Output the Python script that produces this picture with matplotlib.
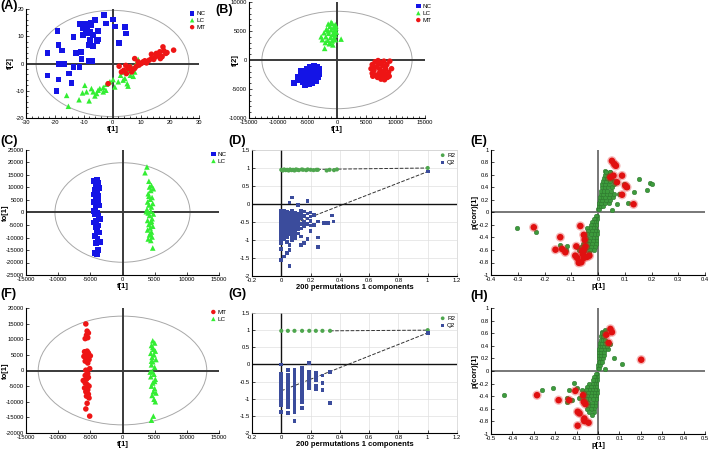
import matplotlib
matplotlib.use("Agg")
import matplotlib.pyplot as plt
from matplotlib.patches import Ellipse
from matplotlib.ticker import MultipleLocator, AutoMinorLocator, FuncFormatter

plt.rcParams["font.family"] = ["Liberation Sans", "DejaVu Sans"]
plt.rcParams["font.size"] = 4.5
plt.rcParams["axes.unicode_minus"] = False

# ---------------- data ----------------
# (A) PCA scores, t[1] / t[2]
a_nc = [(-3.0, 17.8), (0.2, 16.2), (-2.3, 14.7), (0.8, 13.5), (4.3, 13.3), (4.6, 11.0),
        (2.3, 7.6), (-6.1, 16.0), (-7.6, 15.0), (-9.6, 14.7), (-11.3, 14.5), (-8.8, 13.7),
        (-10.4, 12.9), (-7.8, 11.7), (-5.0, 12.0), (-8.4, 11.0), (-6.7, 10.4), (-10.2, 10.4),
        (-13.6, 9.8), (-5.0, 8.8), (-5.3, 8.3), (-7.8, 8.6), (-8.4, 6.7), (-6.7, 6.4),
        (-19.1, 12.0), (-18.8, 6.7), (-17.6, 4.7), (-12.7, 3.9), (-10.9, 4.3), (-22.5, 3.9),
        (-10.7, 1.6), (-8.4, 0.9), (-6.9, 1.0), (-18.8, -0.2), (-17.6, -0.2), (-16.8, -0.2),
        (-13.6, -1.2), (-11.5, -1.2), (-22.5, -4.4), (-15.0, -3.7), (-18.8, -5.9),
        (-14.2, -7.1), (-19.4, -10.1), (-7.3, 14.1), (-9.2, 12.3)]
a_lc = [(-15.9, -11.7), (-15.3, -15.7), (-11.6, -13.3), (-9.6, -8.0), (-9.0, -10.4),
        (-8.1, -13.7), (-7.3, -9.2), (-6.7, -10.4), (-5.5, -11.0), (-5.0, -9.8), (-4.4, -9.2),
        (-3.2, -8.8), (-2.1, -7.6), (-0.9, -6.7), (-2.3, -9.8), (0.8, -8.6), (0.2, -5.9),
        (2.0, -6.7), (2.8, -4.3), (3.5, -3.1), (4.3, -5.5), (5.1, -7.4), (5.4, -8.3),
        (4.8, -3.1), (6.2, -4.3), (7.2, -4.7), (7.7, -3.1), (8.3, 0.2), (8.9, 1.5),
        (6.6, -1.2), (3.7, -6.1), (-3.2, -10.4), (-6.1, -11.9), (-10.4, -10.8), (5.8, -2.2)]
a_mt = [(-1.5, -7.4), (2.3, -1.0), (3.1, -3.1), (3.9, -2.5), (4.6, -0.7), (5.4, -1.8),
        (6.0, -1.2), (6.9, -2.5), (7.7, -1.8), (8.3, -1.0), (9.2, -0.6), (7.7, 1.8),
        (10.0, 0.0), (10.6, 0.6), (11.8, 0.2), (12.7, 1.2), (13.5, 3.4), (13.5, 1.8),
        (14.3, 1.5), (15.0, 2.5), (15.8, 3.1), (16.4, 4.3), (17.0, 2.7), (17.5, 6.1),
        (17.8, 4.7), (18.5, 3.7), (18.9, 4.0), (21.2, 4.9), (15.2, 3.7), (16.6, 1.8),
        (6.6, -3.1), (4.8, -3.7), (8.9, 0.6), (11.2, 1.0), (17.2, 2.5)]
a_ellipse = (26.5, 19.5)

# (B) PLS-DA scores
b_nc = [(-7300, -4000), (-6500, -3500), (-6000, -3000), (-6200, -2500), (-5800, -3800),
        (-5500, -2200), (-5200, -1500), (-5000, -3200), (-4800, -4200), (-4500, -2600),
        (-4200, -1800), (-4000, -3500), (-3800, -2800), (-3500, -2000), (-3300, -1200),
        (-3000, -1500), (-3200, -3000), (-5500, -4300), (-6100, -1900), (-4600, -1200),
        (-4300, -4000), (-5700, -2800), (-5100, -2500), (-4700, -3600), (-3600, -3700),
        (-6700, -2900), (-3100, -2400), (-5300, -3300), (-4900, -1900), (-3900, -1000)]
b_lc = [(-1500, 6200), (-800, 6300), (-300, 6100), (-1200, 5800), (-600, 5600), (-200, 5500),
        (-1800, 5300), (-1000, 5200), (-400, 5000), (-100, 4800), (-2200, 4700), (-1400, 4600),
        (-700, 4400), (-300, 4300), (-1900, 4000), (-1100, 3900), (-500, 3800), (-2500, 3500),
        (-1600, 3400), (-800, 3300), (-2000, 3000), (-1300, 2800), (-700, 2600), (-2100, 2000),
        (700, 3600), (-2700, 4000), (-1000, 6500), (-200, 5900), (-1500, 5000), (-600, 4700),
        (-300, 3500), (-1200, 3000)]
b_mt = [(6000, -800), (6500, -300), (7000, -100), (7500, -500), (8000, -200), (9000, -200),
        (5800, -1500), (6300, -1800), (6800, -1200), (7300, -1600), (7800, -1000), (8300, -1500),
        (9300, -1500), (6000, -2300), (6600, -2600), (7200, -2300), (7700, -2800), (8200, -2500),
        (8800, -2100), (6900, -3000), (7500, -3300), (8100, -3400), (8600, -3000), (7100, -700),
        (7900, -2000), (6400, -1200), (8500, -800), (7400, -2000), (6100, -2800), (8900, -2800)]
b_ellipse = (12800, 8400)

# (C) OPLS-DA NC vs LC
c_nc = [(-4000, 13000), (-4400, 12500), (-3700, 11800), (-4100, 10500), (-3600, 9800),
        (-4300, 9000), (-3900, 7800), (-4500, 7200), (-3700, 6500), (-4200, 5800), (-3800, 5000),
        (-4400, 4200), (-4000, 3500), (-3600, 2800), (-4200, 1800), (-4500, 500), (-3900, -200),
        (-4300, -800), (-3700, -1500), (-3500, -2500), (-4100, -3200), (-4400, -4000),
        (-3800, -5200), (-4200, -6000), (-4000, -7000), (-3600, -8000), (-4300, -9500),
        (-3900, -10500), (-3500, -11800), (-4100, -12300), (-3800, -15000), (-4300, -16200),
        (-4000, -16800), (-3700, -12000), (-4100, 8000), (-3700, 3000)]
c_lc = [(3800, 18200), (3500, 15900), (4100, 12500), (4500, 10800), (4200, 10200), (4800, 9500),
        (4400, 8800), (4000, 7500), (4600, 6000), (4300, 5300), (3900, 4200), (4700, 3600),
        (4100, 3000), (4500, 2200), (3800, 1200), (4400, 500), (4000, -200), (4800, -600),
        (4200, -1200), (4600, -2500), (3900, -3200), (4400, -4000), (4100, -4800), (4700, -5500),
        (4300, -6200), (3900, -7000), (4500, -7800), (4200, -9000), (4600, -9800), (4000, -10600),
        (4400, -11200), (4700, -14200), (4100, 6500), (4500, -3500), (3700, 300), (4300, -8500)]
c_ellipse = (10500, 19900)

# (F) OPLS-DA MT vs LC
f_mt = [(-5700, 14900), (-5500, 12600), (-5300, 12000), (-5600, 11300), (-5400, 10500),
        (-5800, 10200), (-5900, 6000), (-5500, 6200), (-5700, 5300), (-5300, 5600), (-6000, 4500),
        (-5500, 4000), (-5200, 3500), (-5800, 3000), (-5400, 2400), (-5100, 600), (-5700, 100),
        (-6100, -3200), (-5600, -2800), (-5300, -2200), (-5800, -4000), (-5500, -4500),
        (-5200, -5000), (-5900, -5600), (-5400, -6200), (-5700, -6800), (-5300, -7600),
        (-5600, -8200), (-5200, -8800), (-5500, -10500), (-5700, -12300), (-5100, -14600),
        (-5400, -1000), (-5000, 4700), (-5800, -1600)]
f_lc = [(4700, 9500), (5000, 8800), (4500, 8000), (4800, 6800), (5100, 6200), (4400, 5500),
        (4900, 5000), (4600, 4200), (5200, 3500), (4700, 2800), (4500, 1800), (5000, 1000),
        (4600, -300), (4900, -1200), (4400, -2000), (5100, -2800), (4700, -4000), (4500, -5000),
        (5000, -5800), (4800, -6800), (5200, -7200), (4600, -8000), (4900, -9200), (5100, -10000),
        (4500, -15900), (4800, -14600), (4700, 7400), (4500, 3000), (5000, -3500), (4300, -500)]
f_ellipse = (13100, 17400)

# (D) permutation test, NC vs LC
d_r2 = [(0, 0.95), (0.01, 0.93), (0.02, 0.96), (0.03, 0.94), (0.04, 0.95), (0.05, 0.93),
        (0.06, 0.96), (0.07, 0.94), (0.08, 0.95), (0.09, 0.93), (0.10, 0.96), (0.11, 0.95),
        (0.12, 0.94), (0.14, 0.96), (0.15, 0.95), (0.17, 0.94), (0.18, 0.96), (0.20, 0.95),
        (0.22, 0.94), (0.24, 0.95), (0.25, 0.95), (0.31, 0.93), (0.33, 0.95), (0.36, 0.94),
        (0.38, 0.96)]
d_q2 = [(0, -0.2), (0, -0.3), (0, -0.4), (0, -0.5), (0, -0.6), (0, -0.7), (0, -0.8), (0, -0.9),
        (0, -1.0), (0, -1.08), (0, -1.25), (0, -1.56),
        (0.02, -0.18), (0.02, -0.28), (0.02, -0.38), (0.02, -0.48), (0.02, -0.58), (0.02, -0.68),
        (0.02, -0.78), (0.02, -0.88), (0.02, -0.98), (0.02, -1.46),
        (0.04, -0.22), (0.04, -0.32), (0.04, -0.42), (0.04, -0.52), (0.04, -0.62), (0.04, -0.72),
        (0.04, -0.82), (0.04, -0.92), (0.04, -1.05), (0.04, -1.37),
        (0.055, 0.04), (0.055, -0.25), (0.055, -0.35), (0.055, -0.45), (0.055, -0.55),
        (0.055, -0.65), (0.055, -0.75), (0.055, -0.85), (0.055, -1.14), (0.055, -1.28),
        (0.055, -1.72),
        (0.075, 0.18), (0.075, -0.2), (0.075, -0.3), (0.075, -0.4), (0.075, -0.5), (0.075, -0.6),
        (0.075, -0.7), (0.075, -0.8), (0.075, -0.9), (0.075, -1.0),
        (0.095, -0.25), (0.095, -0.35), (0.095, -0.45), (0.095, -0.55), (0.095, -0.65),
        (0.095, -0.75), (0.095, -0.85), (0.095, -0.95),
        (0.115, -0.03), (0.115, -0.28), (0.115, -0.38), (0.115, -0.48), (0.115, -0.58),
        (0.115, -0.7), (0.115, -0.82),
        (0.135, -0.2), (0.135, -0.3), (0.135, -0.4), (0.135, -0.55), (0.135, -0.68),
        (0.135, -0.9), (0.135, -1.14),
        (0.155, -0.21), (0.155, -0.33), (0.155, -0.5), (0.155, -0.62), (0.155, -1.09),
        (0.18, 0.09), (0.18, -0.26), (0.18, -0.4), (0.18, -0.55), (0.18, -0.98),
        (0.20, -0.24), (0.20, -0.35), (0.20, -0.48), (0.20, -0.6), (0.20, -0.75),
        (0.225, -0.3), (0.225, -0.58), (0.25, -0.49), (0.25, -0.93), (0.25, -1.19),
        (0.29, -0.52), (0.32, -0.52), (0.345, -0.32), (0.356, -0.49)]
d_r2_orig = (1.0, 1.0)
d_q2_orig = (1.0, 0.9)
d_r2_line = [(0, 0.95), (1.0, 1.0)]
d_q2_line = [(0, -0.68), (1.0, 0.9)]

# (G) permutation test, MT vs LC
g_r2 = [(0, 0.98), (0.045, 0.98), (0.09, 0.98), (0.142, 0.98), (0.191, 0.98), (0.236, 0.98),
        (0.281, 0.98), (0.333, 0.98)]
g_q2 = [(0, 0.0), (0, -0.28), (0, -0.35), (0, -0.45), (0, -0.55), (0, -0.62), (0, -0.72),
        (0, -0.8), (0, -0.9), (0, -1.0), (0, -1.1), (0, -1.2), (0, -1.38),
        (0.045, -0.17), (0.045, -0.3), (0.045, -0.4), (0.045, -0.5), (0.045, -0.6),
        (0.045, -0.68), (0.045, -0.75), (0.045, -0.85), (0.045, -0.95), (0.045, -1.05),
        (0.045, -1.15), (0.045, -1.25), (0.045, -1.42),
        (0.09, -0.15), (0.09, -0.25), (0.09, -0.35), (0.09, -0.45), (0.09, -0.55), (0.09, -0.65),
        (0.09, -0.75), (0.09, -0.85), (0.09, -0.92), (0.09, -1.0), (0.09, -1.1), (0.09, -1.2),
        (0.09, -1.3), (0.09, -1.38), (0.09, -1.65),
        (0.142, -0.1), (0.142, -0.2), (0.142, -0.3), (0.142, -0.4), (0.142, -0.5),
        (0.142, -0.6), (0.142, -0.7), (0.142, -0.8), (0.142, -0.9), (0.142, -1.0),
        (0.142, -1.1), (0.142, -1.28),
        (0.191, 0.04), (0.191, -0.22), (0.191, -0.32), (0.191, -0.42), (0.191, -0.52),
        (0.191, -0.6), (0.191, -0.7),
        (0.236, -0.25), (0.236, -0.35), (0.236, -0.45), (0.236, -0.62), (0.236, -0.72),
        (0.281, -0.32), (0.281, -0.55), (0.281, -0.75),
        (0.333, -0.22), (0.333, -1.13)]
g_r2_orig = (1.0, 1.0)
g_q2_orig = (1.0, 0.92)
g_r2_line = [(0.333, 0.98), (1.0, 1.0)]
g_q2_line = [(0, -0.77), (1.0, 0.92)]

# (E) S-plot NC vs LC: all variables (green) and selected (red)
e_all = [(-0.302, -0.242), (-0.23, -0.305), (-0.143, -0.52), (-0.116, -0.54), (-0.118, -0.595),
         (0.152, 0.537), (0.195, 0.468), (0.2, 0.458), (0.185, 0.353), (0.133, 0.326),
         (0.114, 0.153), (0.108, 0.405), (0.096, 0.458), (0.077, 0.3), (0.071, 0.142),
         (0.052, 0.037), (0.046, 0.642), (0.027, 0.658),
         (0.0, 0.05), (0.005, 0.05), (0.003, 0.1), (0.01, 0.1), (0.02, 0.1),
         (0.005, 0.15), (0.012, 0.15), (0.025, 0.15), (0.04, 0.15),
         (0.006, 0.2), (0.015, 0.2), (0.03, 0.2), (0.045, 0.2),
         (0.008, 0.25), (0.018, 0.25), (0.028, 0.25), (0.04, 0.25), (0.055, 0.25),
         (0.01, 0.3), (0.02, 0.3), (0.032, 0.3), (0.045, 0.3), (0.06, 0.3),
         (0.012, 0.35), (0.022, 0.35), (0.035, 0.35), (0.05, 0.35),
         (0.014, 0.4), (0.025, 0.4), (0.038, 0.4), (0.052, 0.4),
         (0.016, 0.45), (0.028, 0.45), (0.042, 0.45), (0.058, 0.45),
         (0.018, 0.5), (0.03, 0.5), (0.045, 0.5), (0.06, 0.5),
         (0.022, 0.55), (0.035, 0.55), (0.05, 0.55), (0.025, 0.6), (0.04, 0.6), (0.055, 0.6),
         (0.03, 0.64), (0.045, 0.64),
         (-0.002, -0.05), (-0.006, -0.05), (-0.004, -0.1), (-0.01, -0.1), (-0.016, -0.1),
         (-0.006, -0.15), (-0.014, -0.15), (-0.022, -0.15),
         (-0.008, -0.2), (-0.018, -0.2), (-0.028, -0.2),
         (-0.01, -0.25), (-0.02, -0.25), (-0.03, -0.25), (-0.04, -0.25),
         (-0.004, -0.3), (-0.012, -0.3), (-0.024, -0.3), (-0.036, -0.3),
         (-0.005, -0.35), (-0.015, -0.35), (-0.027, -0.35), (-0.04, -0.35),
         (-0.006, -0.4), (-0.018, -0.4), (-0.03, -0.4), (-0.045, -0.4),
         (-0.007, -0.45), (-0.02, -0.45), (-0.034, -0.45), (-0.05, -0.45),
         (-0.008, -0.5), (-0.022, -0.5), (-0.038, -0.5), (-0.055, -0.5),
         (-0.01, -0.55), (-0.025, -0.55), (-0.042, -0.55), (-0.065, -0.55), (-0.08, -0.55),
         (-0.015, -0.6), (-0.03, -0.6), (-0.048, -0.6), (-0.07, -0.6),
         (-0.035, -0.65), (-0.055, -0.65), (-0.05, -0.7)]
e_sel = [(0.052, 0.826), (0.061, 0.774), (0.067, 0.747), (0.058, 0.59), (0.09, 0.59),
         (0.046, 0.563), (0.071, 0.484), (0.102, 0.432), (0.108, 0.405), (0.09, 0.284),
         (0.133, 0.132), (-0.24, -0.237), (-0.141, -0.395), (-0.159, -0.595), (-0.134, -0.584),
         (-0.122, -0.637), (-0.066, -0.216), (-0.053, -0.358), (-0.05, -0.437), (-0.047, -0.542),
         (-0.053, -0.595), (-0.056, -0.674), (-0.081, -0.542), (-0.085, -0.69), (-0.078, -0.726),
         (-0.072, -0.805), (-0.062, -0.795), (-0.053, -0.726), (-0.041, -0.71), (-0.032, -0.69),
         (-0.06, -0.62)]

# (H) S-plot MT vs LC
h_all = [(-0.437, -0.384), (-0.261, -0.305), (-0.21, -0.263), (-0.135, -0.295), (-0.145, -0.421),
         (-0.145, -0.489), (-0.11, -0.19), (-0.1, -0.263), (-0.121, -0.463), (-0.09, -0.421),
         (0.112, 0.116), (0.073, 0.21), (0.034, 0.037), (0.058, 0.43), (0.034, 0.653),
         (0.019, 0.616),
         (0.0, 0.05), (0.004, 0.05), (0.002, 0.1), (0.008, 0.1), (0.003, 0.15), (0.01, 0.15),
         (0.02, 0.15), (0.004, 0.2), (0.012, 0.2), (0.025, 0.2), (0.005, 0.25), (0.014, 0.25),
         (0.028, 0.25), (0.006, 0.3), (0.015, 0.3), (0.03, 0.3), (0.007, 0.35), (0.016, 0.35),
         (0.032, 0.35), (0.045, 0.35), (0.008, 0.4), (0.018, 0.4), (0.03, 0.4), (0.042, 0.4),
         (0.01, 0.45), (0.02, 0.45), (0.035, 0.45), (0.012, 0.5), (0.022, 0.5), (0.035, 0.5),
         (0.014, 0.55), (0.025, 0.55), (0.02, 0.6), (0.03, 0.6),
         (-0.003, -0.05), (-0.008, -0.05), (-0.005, -0.1), (-0.012, -0.1), (-0.02, -0.1),
         (-0.006, -0.15), (-0.015, -0.15), (-0.025, -0.15),
         (-0.008, -0.2), (-0.018, -0.2), (-0.03, -0.2), (-0.04, -0.2),
         (-0.01, -0.25), (-0.022, -0.25), (-0.035, -0.25), (-0.05, -0.25),
         (-0.005, -0.3), (-0.015, -0.3), (-0.028, -0.3), (-0.042, -0.3), (-0.058, -0.3),
         (-0.075, -0.3), (-0.006, -0.35), (-0.018, -0.35), (-0.032, -0.35), (-0.048, -0.35),
         (-0.065, -0.35), (-0.008, -0.4), (-0.02, -0.4), (-0.035, -0.4), (-0.052, -0.4),
         (-0.07, -0.4), (-0.01, -0.45), (-0.024, -0.45), (-0.04, -0.45), (-0.056, -0.45),
         (-0.012, -0.5), (-0.028, -0.5), (-0.045, -0.5), (-0.06, -0.5),
         (-0.015, -0.55), (-0.03, -0.55), (-0.048, -0.55), (-0.018, -0.6), (-0.035, -0.6),
         (-0.05, -0.6), (-0.02, -0.65), (-0.04, -0.65), (-0.03, -0.7)]
h_sel = [(0.058, 0.668), (0.065, 0.616), (0.039, 0.574), (0.05, 0.447), (0.202, 0.179),
         (-0.285, -0.384), (-0.184, -0.463), (-0.135, -0.463), (-0.106, -0.316), (-0.07, -0.384),
         (-0.059, -0.526), (-0.095, -0.647), (-0.086, -0.674), (-0.064, -0.753), (-0.064, -0.795),
         (-0.044, -0.821), (-0.095, -0.868), (-0.067, -0.489)]

# ---------------- styles ----------------
BLUE, GREEN, RED = "#1414e6", "#33ee33", "#ee1515"
PERM_GREEN, PERM_BLUE = "#4ea64e", "#3b4c9c"
S_GREEN, S_RED = "#3d9b3d", "#e01010"

fmt = FuncFormatter(lambda v, p: "%g" % round(v, 6))
W, H = 709, 451


def xy(points):
    return [p[0] for p in points], [p[1] for p in points]


def base_axes(ax, xlim, ylim, xstep, ystep, minor=None):
    ax.set_xlim(*xlim)
    ax.set_ylim(*ylim)
    ax.xaxis.set_major_locator(MultipleLocator(xstep))
    ax.yaxis.set_major_locator(MultipleLocator(ystep))
    ax.xaxis.set_major_formatter(fmt)
    ax.yaxis.set_major_formatter(fmt)
    if minor:
        ax.xaxis.set_minor_locator(AutoMinorLocator(minor))
        ax.yaxis.set_minor_locator(AutoMinorLocator(minor))
    for s in ("top", "right"):
        ax.spines[s].set_visible(False)
    for s in ("left", "bottom"):
        ax.spines[s].set_linewidth(0.8)
    ax.tick_params(which="both", direction="in", labelsize=4.2, width=0.5, pad=1.5)
    ax.tick_params(which="major", length=2.5)
    ax.tick_params(which="minor", length=1.3)
    ax.set_facecolor("none")


def ylabel_at(ax, text, px):
    # put the y label so that its right edge sits at figure pixel px
    ax.set_ylabel(text, fontsize=5.5, fontweight="bold")
    bbox = ax.get_position()
    left_px = bbox.x0 * W
    ax.yaxis.set_label_coords(-(left_px - px) / (bbox.width * W), 0.5)


def score_panel(ax, groups, ellipse, xlim, ylim, xstep, ystep, ylabel, ylabel_px, minor):
    base_axes(ax, xlim, ylim, xstep, ystep, minor)
    ax.add_patch(Ellipse((0, 0), 2 * ellipse[0], 2 * ellipse[1], fill=False,
                         edgecolor="#a8a8a8", lw=0.7, zorder=1))
    ax.axhline(0, color="#3a3a3a", lw=1.4, zorder=2)
    ax.axvline(0, color="#3a3a3a", lw=1.4, zorder=2)
    for pts, marker, color, label in groups:
        x, y = xy(pts)
        ax.scatter(x, y, s=16, marker=marker, color=color, edgecolors="none",
                   label=label, zorder=3)
    ax.legend(loc="upper right", bbox_to_anchor=(1.06, 1.02), frameon=False,
              fontsize=4.5, handlelength=0.8, handletextpad=0.3, labelspacing=0.25,
              borderaxespad=0.2, markerscale=0.8)
    ax.set_xlabel("t[1]", fontsize=5.5, fontweight="bold", labelpad=1)
    ylabel_at(ax, ylabel, ylabel_px)


def perm_panel(ax, r2, q2, r2_orig, q2_orig, r2_line, q2_line):
    base_axes(ax, (-0.2, 1.2), (-2, 1.5), 0.2, 0.5)
    for s in ("top", "right"):
        ax.spines[s].set_visible(True)
        ax.spines[s].set_color("#d0d0d0")
        ax.spines[s].set_linewidth(0.5)
    ax.grid(True, color="#e0e0e0", lw=0.5, zorder=0)
    ax.axhline(0, color="#111111", lw=1.0, zorder=2)
    ax.axvline(0, color="#111111", lw=1.0, zorder=2)
    ax.plot(*xy(r2_line), ls="--", color="#333333", lw=0.7, zorder=2)
    ax.plot(*xy(q2_line), ls="--", color="#333333", lw=0.7, zorder=2)
    x, y = xy(r2 + [r2_orig])
    ax.scatter(x, y, s=9, marker="o", color=PERM_GREEN, edgecolors="none", label="R2", zorder=3)
    x, y = xy(q2 + [q2_orig])
    ax.scatter(x, y, s=7, marker="s", color=PERM_BLUE, edgecolors="none", label="Q2", zorder=3)
    ax.legend(loc="upper right", bbox_to_anchor=(1.01, 1.01), frameon=False,
              fontsize=4.5, handlelength=0.8, handletextpad=0.3, labelspacing=0.25,
              borderaxespad=0.2, markerscale=0.9)
    ax.set_xlabel("200 permutations 1 components", fontsize=5.5, fontweight="bold", labelpad=1)


def s_panel(ax, allv, sel, xlim, xstep):
    base_axes(ax, xlim, (-1, 1), xstep, 0.2)
    ax.axhline(0, color="#777777", lw=1.4, zorder=1)
    ax.axvline(0, color="#777777", lw=1.4, zorder=1)
    x, y = xy(allv)
    ax.scatter(x, y, s=11, color=S_GREEN, edgecolors="#2a6e2a", linewidths=0.3, zorder=2)
    x, y = xy(sel)
    ax.scatter(x, y, s=45, color=S_RED, alpha=0.3, edgecolors="none", zorder=3)
    ax.scatter(x, y, s=22, color=S_RED, edgecolors="none", zorder=4)
    ax.set_xlabel("p[1]", fontsize=5.5, fontweight="bold", labelpad=1)
    ylabel_at(ax, "p(corr)[1]", 479)


fig = plt.figure(figsize=(W / 100, H / 100), dpi=100)


def add_axes(x0, x1, y0, y1):
    return fig.add_axes([x0 / W, 1 - y1 / H, (x1 - x0) / W, (y1 - y0) / H])


ax_a = add_axes(26, 199, 9, 118)
score_panel(ax_a, [(a_nc, "s", BLUE, "NC"), (a_lc, "^", GREEN, "LC"), (a_mt, "o", RED, "MT")],
            a_ellipse, (-30, 30), (-20, 20), 10, 10, "t[2]", 14, 5)

ax_b = add_axes(249, 425, 2, 118)
score_panel(ax_b, [(b_nc, "s", BLUE, "NC"), (b_lc, "^", GREEN, "LC"), (b_mt, "o", RED, "MT")],
            b_ellipse, (-15000, 15000), (-10000, 10000), 5000, 5000, "t[2]", 239, 5)

ax_c = add_axes(26, 219, 150, 275)
score_panel(ax_c, [(c_nc, "s", BLUE, "NC"), (c_lc, "^", GREEN, "LC")],
            c_ellipse, (-15000, 15000), (-25000, 25000), 5000, 5000, "to[1]", 9, None)

ax_f = add_axes(26, 219, 308, 433)
score_panel(ax_f, [(f_mt, "o", RED, "MT"), (f_lc, "^", GREEN, "LC")],
            f_ellipse, (-15000, 15000), (-20000, 20000), 5000, 5000, "to[1]", 9, None)

ax_d = add_axes(252, 457, 150, 276)
perm_panel(ax_d, d_r2, d_q2, d_r2_orig, d_q2_orig, d_r2_line, d_q2_line)

ax_g = add_axes(252, 457, 313, 433)
perm_panel(ax_g, g_r2, g_q2, g_r2_orig, g_q2_orig, g_r2_line, g_q2_line)

ax_e = add_axes(491, 705, 150, 275)
s_panel(ax_e, e_all, e_sel, (-0.4, 0.4), 0.1)

ax_h = add_axes(491, 705, 308, 434)
s_panel(ax_h, h_all, h_sel, (-0.5, 0.5), 0.1)

for label, px, py in [("(A)", 0, 0), ("(B)", 215, 4), ("(C)", 0, 135), ("(D)", 228, 135),
                      ("(E)", 470, 135), ("(F)", 0, 288), ("(G)", 228, 288), ("(H)", 470, 290)]:
    fig.text(px / W, 1 - py / H, label, fontsize=9, fontweight="bold", va="top", ha="left")

fig.savefig("out.png", dpi=100)
